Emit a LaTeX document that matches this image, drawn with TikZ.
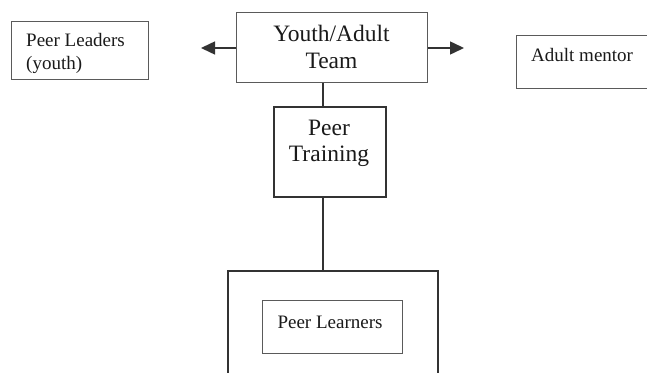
\documentclass[tikz,border=0pt]{standalone}
\usepackage{fontspec}
\setmainfont{Liberation Serif}
\usetikzlibrary{arrows.meta}
\definecolor{ink}{HTML}{1A1A1A}
\definecolor{thinline}{HTML}{5A5A5A}
\definecolor{thickline}{HTML}{333333}
\tikzset{
  thinbox/.style={draw=thinline, line width=1.1pt, inner sep=0pt},
  thickbox/.style={draw=thickline, line width=1.6pt, inner sep=0pt},
  smalltxt/.style={font=\fontsize{19}{23}\selectfont, text=ink, inner sep=0pt},
  bigtxt/.style={font=\fontsize{23.5}{26.5}\selectfont, text=ink, inner sep=0pt, align=center},
  conn/.style={draw=thickline, line width=1.5pt},
  arr/.style={draw=thickline, line width=1.5pt, -{Triangle[length=14pt, width=13pt]}}
}
\begin{document}
\begin{tikzpicture}[x=1pt, y=-1pt]
\clip (0,0) rectangle (647,372);
\fill[white] (0,0) rectangle (647,372);
% Peer Leaders
\node[thinbox, minimum width=137pt, minimum height=58pt, anchor=north west] (leaders) at (11,21) {};
\node[smalltxt, align=left, anchor=west] (leaderstxt) at (26,53.5) {Peer Leaders\\(youth)};
% Youth/Adult Team
\node[thinbox, minimum width=191pt, minimum height=70pt, anchor=north west] (team) at (236,12) {};
\node[bigtxt] (teamtxt) at (331.5,47) {Youth/Adult\\Team};
% Adult mentor
\node[thinbox, minimum width=160pt, minimum height=53pt, anchor=north west] (mentor) at (516,35) {};
\node[smalltxt, anchor=west] (mentortxt) at (531,55) {Adult mentor};
% Peer Training
\node[thickbox, minimum width=112pt, minimum height=90pt, anchor=north west] (train) at (273,106) {};
\node[bigtxt] (traintxt) at (329,143.5) {Peer\\Training};
% Outer box
\node[thickbox, minimum width=210pt, minimum height=120pt, anchor=north west] (outer) at (227,270) {};
% Peer Learners
\node[thinbox, minimum width=140pt, minimum height=53pt, anchor=north west] (learners) at (262,300) {};
\node[smalltxt] (learnerstxt) at (330,322) {Peer Learners};
% connectors
\coordinate (vx) at (323,0);
\coordinate (ltip) at (201,48);
\coordinate (rtip) at (464,48);
\draw[conn] (vx |- team.south) -- (vx |- train.north);
\draw[conn] (vx |- train.south) -- (vx |- outer.north);
\draw[arr] (team.west |- ltip) -- (ltip);
\draw[arr] (team.east |- rtip) -- (rtip);
\end{tikzpicture}
\end{document}
